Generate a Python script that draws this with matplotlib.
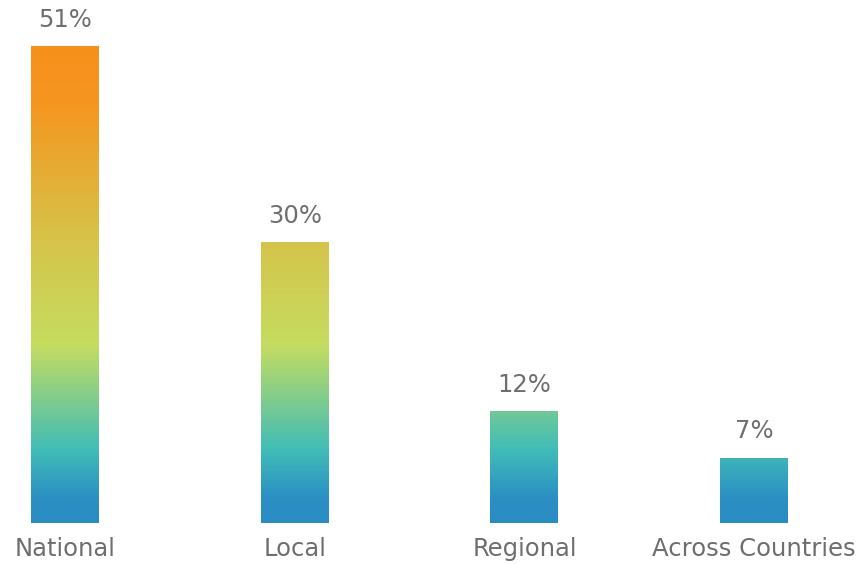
import numpy as np
import matplotlib.pyplot as plt
from matplotlib.colors import LinearSegmentedColormap

categories = ["National", "Local", "Regional", "Across Countries"]
values = [51, 30, 12, 7]

fig = plt.figure(figsize=(8.63, 5.64), dpi=100)
ax = fig.add_axes([0, 41 / 564, 1, 523 / 564])

ymax = 523 / (477 / 51)
xmin = -65 / 229.7
xmax = xmin + 863 / 229.7

# gradient is tied to the value axis, shared by all bars
stops = [(0, "#2a8cc3"), (2.5 / 51, "#2a8fc4"), (7.8 / 51, "#41bdb7"),
         (19 / 51, "#c5dd60"), (30 / 51, "#d6c44b"), (45 / 51, "#f5961f"),
         (1, "#f7901c")]
cmap = LinearSegmentedColormap.from_list("grad", stops)
grad = np.linspace(0, 1, 256).reshape(-1, 1)

w = 0.296
x = np.arange(len(categories))
bars = ax.bar(x, values, width=w, color="none")
for b, v in zip(bars, values):
    im = ax.imshow(grad, cmap=cmap, origin="lower", aspect="auto",
                   extent=[b.get_x(), b.get_x() + w, 0, 51])
    im.set_clip_path(b)
    ax.text(b.get_x() + w / 2, v + 2.8, f"{v}%", ha="center", va="center",
            fontsize=17.5, color="#6e6e6e")

ax.set_xlim(xmin, xmax)
ax.set_ylim(0, ymax)
ax.set_xticks(x)
ax.set_xticklabels(categories, fontsize=17.5, color="#6e6e6e")
ax.tick_params(length=0, pad=10)
ax.set_yticks([])
for s in ax.spines.values():
    s.set_visible(False)

fig.savefig("out.png", dpi=100)
